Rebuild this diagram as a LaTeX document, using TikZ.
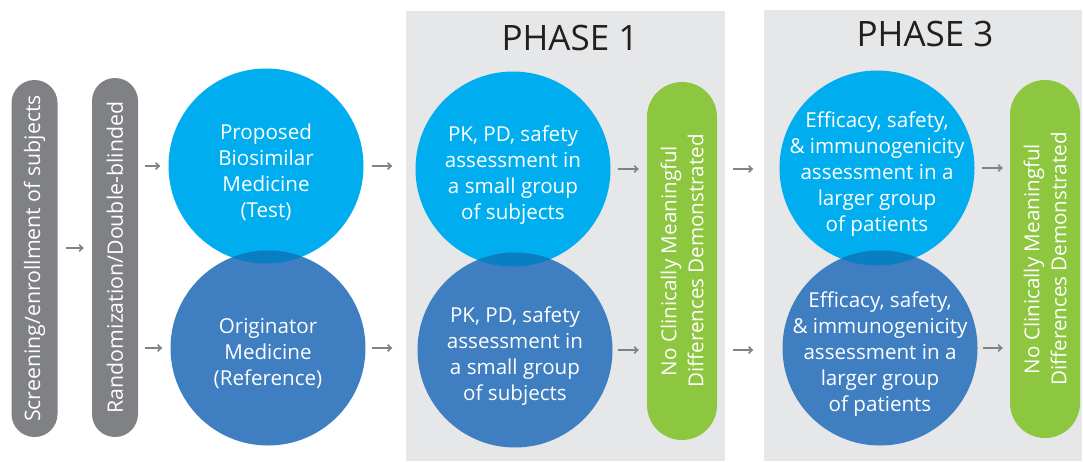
\documentclass[tikz,border=0pt]{standalone}
\usepackage{fontspec}
\setmainfont{Open Sans}
\usetikzlibrary{arrows.meta}
\definecolor{cyanc}{HTML}{00AEEF}
\definecolor{bluec}{HTML}{3E7EC1}
\definecolor{overc}{HTML}{0A7EC2}
\definecolor{pillgray}{HTML}{808184}
\definecolor{greenc}{HTML}{8DC63F}
\definecolor{boxgray}{HTML}{E6E7E8}
\definecolor{arrgray}{HTML}{808285}
\definecolor{darktext}{HTML}{231F20}
\tikzset{
  graypill/.style={fill=pillgray, draw=none, rounded corners=23pt, minimum width=46pt, inner sep=0pt},
  greenpill/.style={fill=greenc, draw=none, rounded corners=35pt, minimum width=70pt, minimum height=358pt, inner sep=0pt},
  pilltext/.style={rotate=90, text=white, font=\fontsize{21.3}{27}\selectfont, align=center},
  greentext/.style={rotate=90, text=white, font=\fontsize{20.6}{27}\selectfont, align=center},
  topc/.style={circle, fill=cyanc, minimum size=195pt, inner sep=0pt},
  botc/.style={circle, fill=bluec, minimum size=195pt, inner sep=0pt},
  ctext/.style={text=white, align=center, font=\fontsize{20.6}{26}\selectfont, yshift=-6pt},
  phasebox/.style={fill=boxgray, draw=none, anchor=north west, inner sep=0pt},
  phasetitle/.style={text=darktext, font=\fontsize{35}{40}\selectfont},
  arr/.style={draw=arrgray, line width=1.6pt, -{Straight Barb[length=3.5pt,width=6.5pt]}},
}
\begin{document}
\begin{tikzpicture}[x=1pt,y=-1pt]
\useasboundingbox (0,0) rectangle (1083,461);
\fill[white] (0,0) rectangle (1083,461);
% phase boxes
\node[phasebox, minimum width=319pt, minimum height=450pt] (ph1) at (406,11) {};
\node[phasebox, minimum width=318pt, minimum height=451pt] (ph3) at (764,10) {};
\node[phasetitle] (ph1t) at (570,38) {PHASE 1};
\node[phasetitle] (ph3t) at (925,34) {PHASE 3};
% gray pills
\node[graypill, minimum height=357pt] (p1) at (34.5,258.5) {};
\node[pilltext] (p1t) at (p1) {Screening/enrollment of subjects};
\node[graypill, minimum height=359pt] (p2) at (115,257.5) {};
\node[pilltext] (p2t) at (p2) {Randomization/Double-blinded};
% circles
\node[topc] (c0t) at (266,166) {};
\node[botc] (c0b) at (268,348) {};
\node[topc] (c1t) at (513,169) {};
\node[botc] (c1b) at (515,350) {};
\node[topc] (c3t) at (877,168) {};
\node[botc] (c3b) at (880,348) {};
% overlaps
\begin{scope}
\clip (c0t.center) circle (97.5pt);
\fill[overc] (c0b.center) circle (97.5pt);
\end{scope}
\begin{scope}
\clip (c1t.center) circle (97.5pt);
\fill[overc] (c1b.center) circle (97.5pt);
\end{scope}
\begin{scope}
\clip (c3t.center) circle (97.5pt);
\fill[overc] (c3b.center) circle (97.5pt);
\end{scope}
% circle texts
\node[ctext] (c0tt) at (c0t) {Proposed\\Biosimilar\\Medicine\\(Test)};
\node[ctext] (c0bt) at (c0b) {Originator\\Medicine\\(Reference)};
\node[ctext] (c1tt) at (c1t) {PK, PD, safety\\assessment in\\a small group\\of subjects};
\node[ctext] (c1bt) at (c1b) {PK, PD, safety\\assessment in\\a small group\\of subjects};
\node[ctext] (c3tt) at (c3t) {Efficacy, safety,\\\& immunogenicity\\assessment in a\\larger group\\of patients};
\node[ctext] (c3bt) at (c3b) {Efficacy, safety,\\\& immunogenicity\\assessment in a\\larger group\\of patients};
% green pills
\node[greenpill] (g1) at (682,261) {};
\node[greentext] (g1t) at (g1) {No Clinically Meaningful\\Differences Demonstrated};
\node[greenpill] (g3) at (1045,259) {};
\node[greentext] (g3t) at (g3) {No Clinically Meaningful\\Differences Demonstrated};
% arrows
\draw[arr] ([xshift=8pt]p1.east |- 0,248) -- ([xshift=-8pt]p2.west |- 0,248);
\draw[arr] ([xshift=7pt]p2.east |- c0t) -- ([xshift=-8pt]c0t.west);
\draw[arr] ([xshift=7pt]p2.east |- c0b) -- ([xshift=-8pt]c0b.west);
\draw[arr] ([xshift=8pt]c0t.east) -- ([xshift=-23pt]c1t.west |- c0t);
\draw[arr] ([xshift=6pt]c0b.east) -- ([xshift=-25pt]c1b.west |- c0b);
\draw[arr] ([xshift=7pt]c1t.east) -- ([xshift=-8pt]g1.west |- c1t);
\draw[arr] ([xshift=5pt]c1b.east) -- ([xshift=-8pt]g1.west |- c1b);
\draw[arr] ([xshift=16pt]g1.east |- c1t) -- ([xshift=-26pt]c3t.west |- c1t);
\draw[arr] ([xshift=16pt]g1.east |- c1b) -- ([xshift=-29pt]c3b.west |- c1b);
\draw[arr] ([xshift=7pt]c3t.east) -- ([xshift=-7pt]g3.west |- c3t);
\draw[arr] ([xshift=5pt]c3b.east) -- ([xshift=-7pt]g3.west |- c3b);
\end{tikzpicture}
\end{document}
